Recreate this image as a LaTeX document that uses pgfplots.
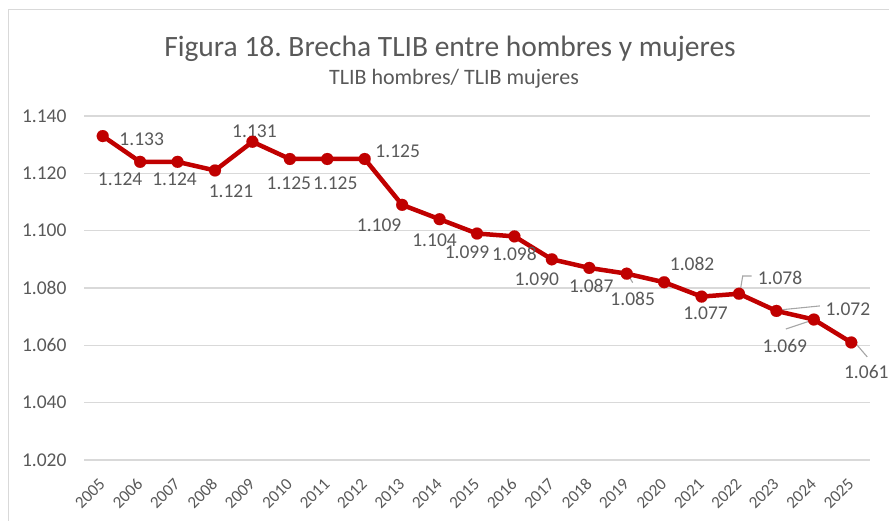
\documentclass[border=0pt]{standalone}
\usepackage{pgfplots}
\pgfplotsset{compat=1.18}
\usepackage{fontspec}
\setmainfont{Carlito}
\frenchspacing
\definecolor{txt}{HTML}{595959}
\definecolor{linered}{HTML}{C00000}
\definecolor{gridc}{HTML}{D9D9D9}
\definecolor{leader}{HTML}{A6A6A6}
\begin{document}
\begin{tikzpicture}[x=1pt,y=1pt]
\useasboundingbox (0,0) rectangle (889,521);
% chart frame
\draw[gridc, line width=1pt] (8,0) -- (8,511) -- (889,511);
% titles
\node[text=txt, font=\fontsize{29.5}{34}\selectfont] at (450,472) {Figura 18. Brecha TLIB entre hombres y mujeres};
\node[text=txt, font=\fontsize{22}{26}\selectfont] at (454,442) {TLIB hombres/ TLIB mujeres};
\begin{axis}[
  at={(84pt,61pt)}, anchor=south west,
  scale only axis, width=786pt, height=344pt,
  xmin=-0.5, xmax=20.5, ymin=1.02, ymax=1.14,
  xtick={0,...,20},
  xticklabels={2005,2006,2007,2008,2009,2010,2011,2012,2013,2014,2015,2016,2017,2018,2019,2020,2021,2022,2023,2024,2025},
  ytick={1.02,1.04,1.06,1.08,1.10,1.12,1.14},
  /pgf/number format/fixed, /pgf/number format/fixed zerofill,
  /pgf/number format/precision=3, /pgf/number format/assume math mode=true,
  yticklabel style={text=txt, font=\fontsize{19.5}{22}\selectfont, xshift=-14pt},
  xticklabel style={text=txt, font=\fontsize{17}{20}\selectfont, yshift=-19pt, xshift=2pt, rotate=45, anchor=east},
  ymajorgrids, grid style={gridc, line width=1.4pt},
  axis line style={draw=none}, major tick length=0pt,
  clip=false,
]
\addplot[linered, line width=4.5pt, line join=round, mark=*, mark size=6pt, mark options={fill=linered, draw=linered, line width=0.1pt}] coordinates {
(0,1.133) (1,1.124) (2,1.124) (3,1.121) (4,1.131) (5,1.125) (6,1.125)
(7,1.125) (8,1.109) (9,1.104) (10,1.099) (11,1.098) (12,1.090) (13,1.087)
(14,1.085) (15,1.082) (16,1.077) (17,1.078) (18,1.072) (19,1.069) (20,1.061)
};
% leader lines
\draw[leader, line width=1.1pt] ([shift={(3pt,-4pt)}]axis cs:14,1.085) -- ([shift={(6pt,-9pt)}]axis cs:14,1.085);
\draw[leader, line width=1.1pt] ([shift={(1.7pt,5.7pt)}]axis cs:17,1.078) -- ([shift={(3.7pt,17.7pt)}]axis cs:17,1.078) -- ([shift={(12.7pt,17.7pt)}]axis cs:17,1.078);
\draw[leader, line width=1.1pt] ([shift={(3.5pt,1pt)}]axis cs:18,1.072) -- ([shift={(43.5pt,5pt)}]axis cs:18,1.072);
\draw[leader, line width=1.1pt] ([shift={(-28pt,-9.5pt)}]axis cs:19,1.069) -- ([shift={(-1pt,-0.5pt)}]axis cs:19,1.069);
\draw[leader, line width=1.1pt] ([shift={(4pt,-0.5pt)}]axis cs:20,1.061) -- ([shift={(16pt,-14.5pt)}]axis cs:20,1.061);
% data labels
\tikzset{dl/.style={text=txt, font=\fontsize{19.5}{22}\selectfont, inner sep=0pt}}
\node[dl] at ([shift={(39pt,-3pt)}]axis cs:0,1.133) {1.133};
\node[dl] at ([shift={(-20pt,-17pt)}]axis cs:1,1.124) {1.124};
\node[dl] at ([shift={(-3pt,-17pt)}]axis cs:2,1.124) {1.124};
\node[dl] at ([shift={(16pt,-20.5pt)}]axis cs:3,1.121) {1.121};
\node[dl] at ([shift={(2pt,11pt)}]axis cs:4,1.131) {1.131};
\node[dl] at ([shift={(-1pt,-24pt)}]axis cs:5,1.125) {1.125};
\node[dl] at ([shift={(8pt,-24pt)}]axis cs:6,1.125) {1.125};
\node[dl] at ([shift={(33pt,8pt)}]axis cs:7,1.125) {1.125};
\node[dl] at ([shift={(-23pt,-20pt)}]axis cs:8,1.109) {1.109};
\node[dl] at ([shift={(-5pt,-21pt)}]axis cs:9,1.104) {1.104};
\node[dl] at ([shift={(-10pt,-18.5pt)}]axis cs:10,1.099) {1.099};
\node[dl] at ([shift={(0pt,-17.6pt)}]axis cs:11,1.098) {1.098};
\node[dl] at ([shift={(-15pt,-20pt)}]axis cs:12,1.090) {1.090};
\node[dl] at ([shift={(2pt,-18pt)}]axis cs:13,1.087) {1.087};
\node[dl] at ([shift={(6pt,-25pt)}]axis cs:14,1.085) {1.085};
\node[dl] at ([shift={(28pt,18pt)}]axis cs:15,1.082) {1.082};
\node[dl] at ([shift={(4pt,-17pt)}]axis cs:16,1.077) {1.077};
\node[dl] at ([shift={(41pt,16pt)}]axis cs:17,1.078) {1.078};
\node[dl] at ([shift={(71.5pt,1.4pt)}]axis cs:18,1.072) {1.072};
\node[dl] at ([shift={(-29pt,-26.5pt)}]axis cs:19,1.069) {1.069};
\node[dl] at ([shift={(15pt,-29.5pt)}]axis cs:20,1.061) {1.061};
\end{axis}
\end{tikzpicture}
\end{document}
